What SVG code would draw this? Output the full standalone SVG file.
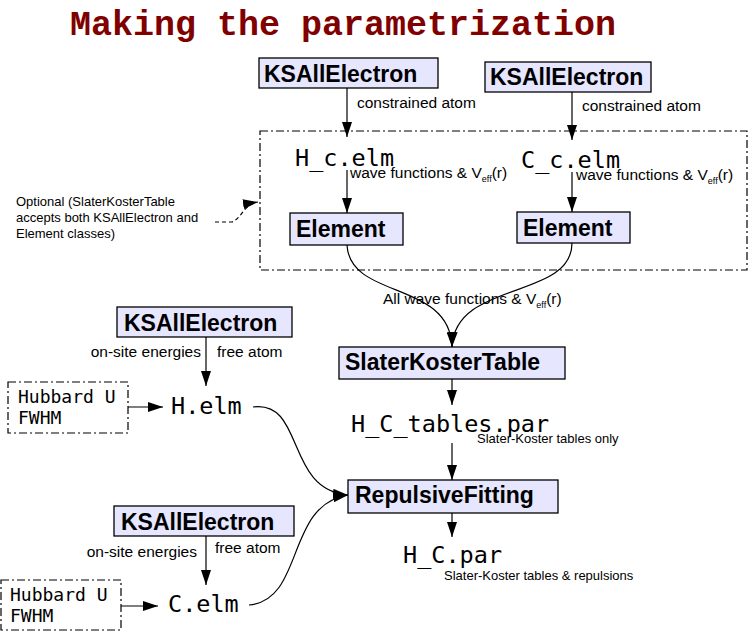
<svg xmlns="http://www.w3.org/2000/svg" width="756" height="643" viewBox="0 0 756 643">
<defs>
<marker id="ah" viewBox="0 0 15 10" refX="15" refY="5" markerWidth="15" markerHeight="10" markerUnits="userSpaceOnUse" orient="auto"><path d="M0,0 L15,5 L0,10 z" fill="#000"/></marker>
<style>
.node rect{fill:#e6e6ff;stroke:#000;stroke-width:1.3}
.nt{font-family:"Liberation Sans",Arial,sans-serif;font-weight:bold;font-size:23px;fill:#000}
.lbl{font-family:"Liberation Sans",Arial,sans-serif;font-size:15.5px;fill:#000}
.sm{font-family:"Liberation Sans",Arial,sans-serif;font-size:13px;fill:#000}
.mono{font-family:"DejaVu Sans Mono",monospace;font-size:23.5px;fill:#000}
.hub{font-family:"DejaVu Sans Mono",monospace;font-size:18px;fill:#000}
.dd{fill:none;stroke:#000;stroke-width:1.2;stroke-dasharray:8,3,2,3}
.c{fill:none;stroke:#000;stroke-width:1.2;marker-end:url(#ah)}
</style>
</defs>
<rect width="756" height="643" fill="#fff"/>
<text x="70" y="35" font-family="Liberation Mono,Courier New,monospace" font-weight="bold" font-size="35" fill="#800000">Making the parametrization</text>

<g id="optional-frame"><rect class="dd" x="260" y="131" width="487" height="139"/></g>

<g id="ksae1" class="node"><rect x="259" y="58" width="179" height="30"/><text class="nt" x="264" y="82">KSAllElectron</text></g>
<g id="ksae2" class="node"><rect x="485" y="62" width="166" height="30"/><text class="nt" x="490" y="85">KSAllElectron</text></g>
<g id="hcelm"><text class="mono" x="295" y="166">H_c.elm</text></g>
<g id="ccelm"><text class="mono" x="521" y="168">C_c.elm</text></g>
<g id="element1" class="node"><rect x="290" y="213" width="113" height="32"/><text class="nt" x="296" y="237">Element</text></g>
<g id="element2" class="node"><rect x="517" y="212" width="113" height="31"/><text class="nt" x="523" y="236">Element</text></g>
<g id="skt" class="node"><rect x="339" y="347" width="226" height="32"/><text class="nt" x="345" y="370">SlaterKosterTable</text></g>
<g id="hctables"><text class="mono" x="351" y="432">H_C_tables.par</text></g>
<g id="rf" class="node"><rect x="348" y="480" width="210" height="33"/><text class="nt" x="355" y="503">RepulsiveFitting</text></g>
<g id="hcpar"><text class="mono" x="403" y="563">H_C.par</text></g>
<g id="ksae3" class="node"><rect x="117" y="307" width="175" height="30"/><text class="nt" x="124" y="331">KSAllElectron</text></g>
<g id="helm"><text class="mono" x="171" y="414">H.elm</text></g>
<g id="hub1"><rect class="dd" x="8" y="382" width="120" height="51"/><text class="hub" x="18" y="403">Hubbard U</text><text class="hub" x="18" y="424">FWHM</text></g>
<g id="ksae4" class="node"><rect x="114" y="506" width="180" height="30"/><text class="nt" x="121" y="530">KSAllElectron</text></g>
<g id="celm"><text class="mono" x="168" y="612">C.elm</text></g>
<g id="hub2"><rect class="dd" x="1" y="580" width="120" height="50"/><text class="hub" x="10" y="601">Hubbard U</text><text class="hub" x="10" y="622">FWHM</text></g>

<g id="labels">
<text class="lbl" x="357" y="108">constrained atom</text>
<text class="lbl" x="582" y="111">constrained atom</text>
<text class="lbl" x="350" y="178">wave functions &amp; V<tspan font-size="9" dy="4">eff</tspan><tspan dy="-4">(r)</tspan></text>
<text class="lbl" x="576" y="180">wave functions &amp; V<tspan font-size="9" dy="4">eff</tspan><tspan dy="-4">(r)</tspan></text>
<text class="lbl" x="383" y="304">All wave functions &amp; V<tspan font-size="9" dy="4">eff</tspan><tspan dy="-4">(r)</tspan></text>
<text class="sm" x="477" y="443">Slater-Koster tables only</text>
<text class="sm" x="444" y="580">Slater-Koster tables &amp; repulsions</text>
<text class="lbl" x="201" y="357" text-anchor="end">on-site energies</text>
<text class="lbl" x="217" y="357">free atom</text>
<text class="lbl" x="197" y="557" text-anchor="end">on-site energies</text>
<text class="lbl" x="215" y="553">free atom</text>
<text class="sm" x="16" y="206">Optional (SlaterKosterTable</text>
<text class="sm" x="16" y="222">accepts both KSAllElectron and</text>
<text class="sm" x="16" y="238">Element classes)</text>
</g>

<g id="connectors">
<path class="c" d="M347,88 V137"/>
<path class="c" d="M572,92 V140"/>
<path class="c" d="M347,170 V213"/>
<path class="c" d="M572,172 V212"/>
<path class="c" d="M347,245 C350,300 450,280 452,347"/>
<path class="c" d="M572,243 C572,300 455,280 452,347"/>
<path class="c" d="M452,379 V405"/>
<path class="c" d="M452,443 V480"/>
<path class="c" d="M452,513 V537"/>
<path class="c" d="M206,337 V386"/>
<path class="c" d="M128,407 H163"/>
<path class="c" d="M253,407 C305,400 285,490 348,495"/>
<path class="c" d="M206,536 V585"/>
<path class="c" d="M121,606 H158"/>
<path class="c" d="M249,605 C305,600 285,505 348,495"/>
<path class="c" style="stroke-dasharray:4,3" d="M215,222 H232 C242,218 244,204 258,202"/>
</g>
</svg>
